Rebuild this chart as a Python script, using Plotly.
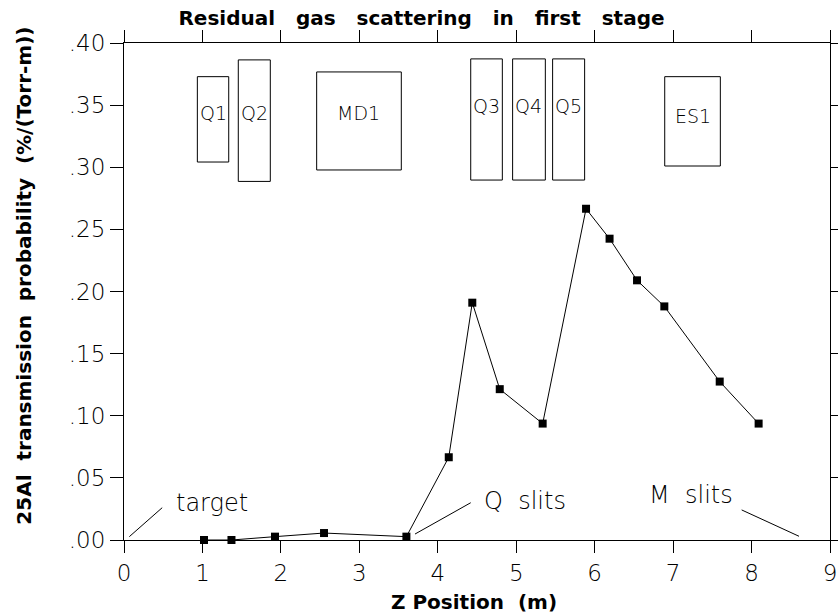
import plotly.graph_objects as go

# ---- data ----
z_pos = [1.02, 1.37, 1.925, 2.55, 3.60, 4.14, 4.44, 4.79, 5.337, 5.89, 6.19, 6.54, 6.888, 7.594, 8.09]
prob = [0.0, 0.0, 0.0027, 0.0056, 0.0027, 0.0666, 0.191, 0.1214, 0.0937, 0.2666, 0.2425, 0.209, 0.188, 0.1275, 0.0937]

elem_names = ["Q1", "Q2", "MD1", "Q3", "Q4", "Q5", "ES1"]
elem_z0 = [0.935, 1.457, 2.456, 4.42, 4.954, 5.464, 6.893]
elem_z1 = [1.335, 1.865, 3.535, 4.823, 5.371, 5.872, 7.602]
elem_y0 = [0.3042, 0.2886, 0.2978, 0.2897, 0.2897, 0.2897, 0.301]
elem_y1 = [0.3729, 0.3864, 0.3767, 0.3872, 0.3872, 0.3872, 0.3729]

x_ticks = [0, 1, 2, 3, 4, 5, 6, 7, 8, 9]
y_ticks = [0.0, 0.05, 0.10, 0.15, 0.20, 0.25, 0.30, 0.35, 0.40]
y_ticktext = [".00", ".05", ".10", ".15", ".20", ".25", ".30", ".35", ".40"]

note_text = ["target", "Q\u00a0\u00a0slits", "M\u00a0\u00a0slits"]

# ---- styles / positions ----
NB = "\u00a0"
thin = dict(family="DejaVu Sans", weight=200, color="black")
bold = dict(family="DejaVu Sans", weight="bold", color="black", size=20)

label_y = [0.344, 0.344, 0.344, 0.349, 0.349, 0.349, 0.341]
note_xy = [(1.122, 0.030), (5.112, 0.0314), (7.228, 0.0362)]
leader = [((0.068, 0.0027), (0.487, 0.026)),
          ((3.71, 0.0048), (4.42, 0.030)),
          ((7.874, 0.0242), (8.605, 0.003))]

fig = go.Figure()
fig.add_trace(go.Scatter(
    x=z_pos, y=prob, mode="lines+markers",
    line=dict(color="black", width=1),
    marker=dict(symbol="square", size=8, color="black"),
    cliponaxis=False, showlegend=False, hoverinfo="x+y"))

shapes = []
annotations = []
for name, a, b, c, d, ly in zip(elem_names, elem_z0, elem_z1, elem_y0, elem_y1, label_y):
    shapes.append(dict(type="rect", xref="x", yref="y", x0=a, x1=b, y0=c, y1=d,
                       line=dict(color="black", width=1), fillcolor="rgba(0,0,0,0)"))
    annotations.append(dict(x=(a + b) / 2, y=ly, xref="x", yref="y", text=name,
                            showarrow=False, font=dict(thin, size=19)))

for txt, (nx, ny) in zip(note_text, note_xy):
    annotations.append(dict(x=nx, y=ny, xref="x", yref="y", text=txt, showarrow=False,
                            font=dict(thin, size=24)))
for (p0, p1) in leader:
    shapes.append(dict(type="line", xref="x", yref="y", x0=p0[0], y0=p0[1], x1=p1[0], y1=p1[1],
                       line=dict(color="black", width=1)))

# axis titles
annotations.append(dict(x=0.4958, y=-0.125, xref="paper", yref="paper",
                        text="Z Position" + NB + NB + "(m)", showarrow=False, font=bold,
                        xanchor="center", yanchor="middle"))
annotations.append(dict(x=-0.1416, y=0.532, xref="paper", yref="paper", textangle=-90,
                        text=(NB * 2).join(["25Al", "transmission", "probability", "(%/(Torr-m))"]),
                        showarrow=False, font=bold, xanchor="center", yanchor="middle"))

fig.update_layout(
    width=838, height=614,
    margin=dict(l=124, r=8, t=43, b=74, autoexpand=False),
    paper_bgcolor="white", plot_bgcolor="white",
    title=dict(text=(NB * 3).join(["Residual", "gas", "scattering", "in", "first", "stage"]),
               xref="container", yref="container", x=0.503, y=1 - 18 / 614,
               xanchor="center", yanchor="middle", font=bold),
    shapes=shapes, annotations=annotations,
    xaxis=dict(range=[0, 9], tickvals=x_ticks, ticktext=[str(v) for v in x_ticks],
               ticks="outside", ticklen=12, tickwidth=1, tickcolor="black",
               showline=True, linecolor="black", linewidth=1, mirror="allticks",
               showgrid=False, zeroline=False, automargin=False,
               tickfont=dict(thin, size=23)),
    yaxis=dict(range=[0, 0.4], tickvals=y_ticks, ticktext=y_ticktext,
               ticks="outside", ticklen=13, tickwidth=1, tickcolor="black",
               showline=True, linecolor="black", linewidth=1, mirror="allticks",
               showgrid=False, zeroline=False, automargin=False,
               tickfont=dict(thin, size=23)),
)

fig.write_html("out.html")
